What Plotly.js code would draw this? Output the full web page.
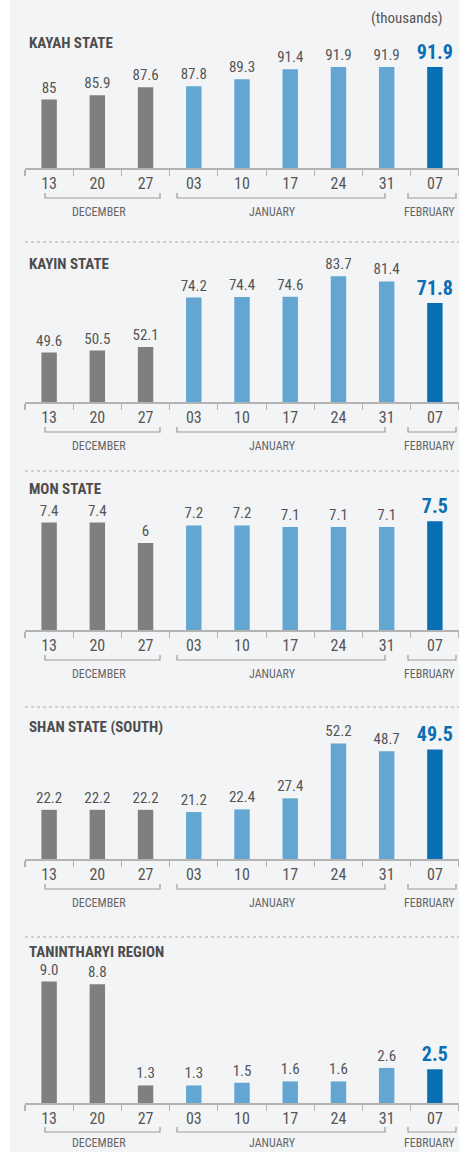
<!DOCTYPE html>
<html><head><meta charset="utf-8">
<script src="https://cdn.plot.ly/plotly-3.0.1.min.js"></script>
<style>html,body{margin:0;padding:0;background:#f3f4f6;overflow:hidden;} #chart{width:459px;height:1152px;}</style>
</head><body><div id="chart"></div>
<script>
// ---- data ----
const categories = ["13","20","27","03","10","17","24","31","07"];
const months = ["DECEMBER","DECEMBER","DECEMBER","JANUARY","JANUARY","JANUARY","JANUARY","JANUARY","FEBRUARY"];
const monthNames = ["DECEMBER","JANUARY","FEBRUARY"];
const panelTitles = ["KAYAH STATE","KAYIN STATE","MON STATE","SHAN STATE (SOUTH)","TANINTHARYI REGION"];
const kayah = [85, 85.9, 87.6, 87.8, 89.3, 91.4, 91.9, 91.9, 91.9];
const kayin = [49.6, 50.5, 52.1, 74.2, 74.4, 74.6, 83.7, 81.4, 71.8];
const mon = [7.4, 7.4, 6, 7.2, 7.2, 7.1, 7.1, 7.1, 7.5];
const shanSouth = [22.2, 22.2, 22.2, 21.2, 22.4, 27.4, 52.2, 48.7, 49.5];
const tanintharyi = [9.0, 8.8, 1.3, 1.3, 1.5, 1.6, 1.6, 2.6, 2.5];
const unitLabel = "(thousands)";

// ---- styling / layout ----
const W = 459, H = 1152;
const FONT = "'Roboto Condensed', 'Liberation Sans Narrow', Roboto, sans-serif";
const monthColor = {DECEMBER: "#7f7f7f", JANUARY: "#64a6d2", FEBRUARY: "#0a6eb4"};
const series = [kayah, kayin, mon, shanSouth, tanintharyi];
const decimals = [null, null, null, null, 1];
const geom = [
  {top: 50,  base: 168,  yr: [70.5, 95.5],  title: 43,  sep: null, br: 30, ml: 44},
  {top: 260, base: 402,  yr: [27.5, 91.0],  title: 264, sep: 242,  br: 30, ml: 44},
  {top: 495, base: 630,  yr: [0, 9.3],      title: 489, sep: 471,  br: 30, ml: 44},
  {top: 735, base: 859,  yr: [0, 56.0],     title: 727, sep: 707,  br: 30, ml: 44},
  {top: 960, base: 1103, yr: [0, 10.6],     title: 952, sep: 937,  br: 29, ml: 40}
];
const bracketPx = {DECEMBER: [45, 160, 99], JANUARY: [177, 385, 272], FEBRUARY: [408, 456, 429]};
const px = v => v / W;
const py = v => 1 - v / H;

const traces = [], shapes = [], annotations = [];
const layout = {
  width: W, height: H,
  margin: {l: 0, r: 0, t: 0, b: 0},
  paper_bgcolor: "#f3f4f6", plot_bgcolor: "rgba(0,0,0,0)",
  showlegend: false, bargap: 0.68,
  font: {family: FONT, color: "#555"}
};

shapes.push({type: "rect", xref: "paper", yref: "paper", x0: 0, x1: px(10), y0: 0, y1: 1,
  fillcolor: "#ffffff", line: {width: 0}, layer: "below"});

annotations.push({xref: "paper", yref: "paper", x: px(407), y: py(18), text: unitLabel,
  showarrow: false, xanchor: "center", yanchor: "middle", font: {size: 15, color: "#555", family: FONT}});

series.forEach((vals, i) => {
  const g = geom[i];
  const n = i + 1;
  const xa = "x" + (n === 1 ? "" : n), ya = "y" + (n === 1 ? "" : n);
  const last = vals.length - 1;
  const txt = vals.map((v, k) => {
    const s = decimals[i] ? v.toFixed(decimals[i]) : String(v);
    return k === last ? "<b>" + s + "</b>" : s;
  });
  traces.push({
    type: "bar", x: categories, y: vals, xaxis: xa, yaxis: ya,
    marker: {color: months.map(m => monthColor[m]), line: {width: 0}},
    text: txt, textposition: "outside", constraintext: "none", cliponaxis: false,
    textfont: {family: FONT, size: vals.map((v, k) => k === last ? 20 : 15),
               color: vals.map((v, k) => k === last ? "#0a6eb4" : "#555")},
    hoverinfo: "skip"
  });
  layout["xaxis" + (n === 1 ? "" : n)] = {
    type: "category", domain: [px(25), 1], range: [-0.5, 8.5], anchor: ya,
    showline: true, linecolor: "#b3b3b3", linewidth: 1.5,
    ticks: "outside", tickson: "boundaries", ticklen: 6, tickcolor: "#b3b3b3", tickwidth: 1.2,
    showgrid: false, zeroline: false, fixedrange: true,
    tickfont: {family: FONT, size: 16, color: "#555"}
  };
  layout["yaxis" + (n === 1 ? "" : n)] = {
    domain: [py(g.base), py(g.top)], range: g.yr, visible: false, anchor: xa, fixedrange: true
  };
  annotations.push({xref: "paper", yref: "paper", x: px(27), y: py(g.title), text: "<b>" + panelTitles[i] + "</b>",
    showarrow: false, xanchor: "left", yanchor: "middle", font: {size: 15, color: "#4d4d4d", family: FONT}});
  if (g.sep !== null) {
    shapes.push({type: "line", xref: "paper", yref: "paper", x0: px(25), x1: px(459), y0: py(g.sep), y1: py(g.sep),
      line: {color: "#aaaaaa", width: 1.2, dash: "dot"}});
  }
  const by = g.base + g.br, ly = g.base + g.ml;
  monthNames.forEach(m => {
    const b = bracketPx[m];
    shapes.push({type: "path", xref: "paper", yref: "paper",
      path: `M ${px(b[0])} ${py(by - 5)} L ${px(b[0])} ${py(by)} L ${px(b[1])} ${py(by)} L ${px(b[1])} ${py(by - 5)}`,
      line: {color: "#999", width: 1.2}});
    annotations.push({xref: "paper", yref: "paper", x: px(b[2]), y: py(ly), text: m, showarrow: false,
      xanchor: "center", yanchor: "middle", font: {size: 12, color: "#666", family: FONT}});
  });
});
layout.shapes = shapes;
layout.annotations = annotations;
Plotly.newPlot("chart", traces, layout, {displayModeBar: false, staticPlot: true});
</script></body></html>
